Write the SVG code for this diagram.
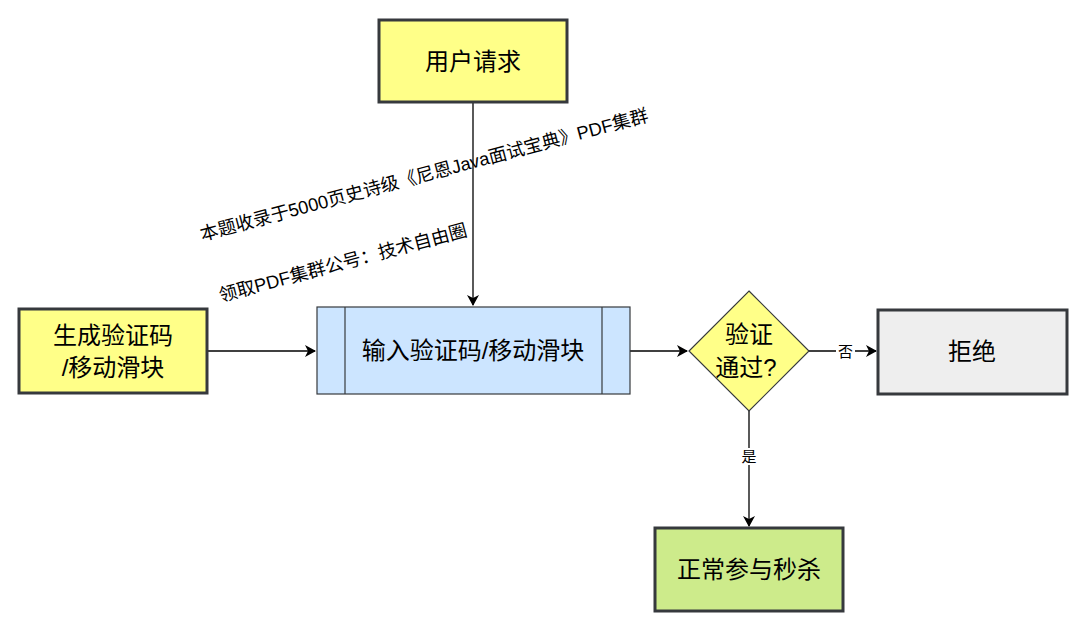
<svg xmlns="http://www.w3.org/2000/svg" width="1080" height="625" viewBox="0 0 1080 625">
<defs>
<style>
.t{font-family:"Liberation Sans","Noto Sans CJK SC",sans-serif;font-size:24px;fill:#000;text-anchor:middle}
.lbl{font-family:"Liberation Sans","Noto Sans CJK SC",sans-serif;font-size:15px;fill:#000;text-anchor:middle}
.wm{font-family:"Liberation Sans","Noto Sans CJK SC",sans-serif;font-size:18.3px;fill:#000}
.thick{stroke:#36393d;stroke-width:3}
.thin{stroke:#36393d;stroke-width:1.2}
.e{stroke:#000;stroke-width:1.3;fill:none}
</style>
<marker id="ah" markerWidth="12" markerHeight="12" refX="10" refY="6" orient="auto" markerUnits="userSpaceOnUse">
<path d="M0,0 L11,6 L0,12 L3,6 Z" fill="#000"/>
</marker>
</defs>
<rect width="1080" height="625" fill="#fff"/>
<g id="edges">
<path class="e" d="M473,102 V305" marker-end="url(#ah)"/>
<path class="e" d="M207,351 H315" marker-end="url(#ah)"/>
<path class="e" d="M630,351 H687" marker-end="url(#ah)"/>
<path class="e" d="M809,351 H876" marker-end="url(#ah)"/>
<path class="e" d="M749,411 V526" marker-end="url(#ah)"/>
<rect x="836" y="342" width="19" height="17" fill="#fff"/>
<text class="lbl" x="845.5" y="357">否</text>
<rect x="739" y="448" width="20" height="17" fill="#fff"/>
<text class="lbl" x="749" y="462">是</text>
</g>
<g id="n-request">
<rect x="379" y="20" width="188" height="82" fill="#ffff88" class="thick"/>
<text class="t" x="473" y="70">用户请求</text>
</g>
<g id="n-generate">
<rect x="19" y="309" width="188" height="84" fill="#ffff88" class="thick"/>
<text class="t" x="113" y="344">生成验证码</text>
<text class="t" x="113" y="376">/移动滑块</text>
</g>
<g id="n-input">
<rect x="317" y="307" width="313" height="87" fill="#cce5ff" class="thin"/>
<line x1="345" y1="307" x2="345" y2="394" class="thin"/>
<line x1="602" y1="307" x2="602" y2="394" class="thin"/>
<text class="t" x="473" y="359">输入验证码/移动滑块</text>
</g>
<g id="n-check">
<path d="M749,291 L809,351 L749,411 L689,351 Z" fill="#ffff88" class="thin"/>
<text class="t" x="749" y="343">验证</text>
<text class="t" x="746" y="376">通过?</text>
</g>
<g id="n-reject">
<rect x="878" y="310" width="189" height="84" fill="#eeeeee" class="thick"/>
<text class="t" x="972" y="360">拒绝</text>
</g>
<g id="n-ok">
<rect x="655" y="528" width="188" height="83" fill="#cdeb8b" class="thick"/>
<text class="t" x="749" y="578">正常参与秒杀</text>
</g>
<g id="watermark">
<text class="wm" transform="translate(202,241) rotate(-15)">本题收录于5000页史诗级《尼恩Java面试宝典》PDF集群</text>
<text class="wm" transform="translate(221,302) rotate(-15)">领取PDF集群公号：技术自由圈</text>
</g>
</svg>
